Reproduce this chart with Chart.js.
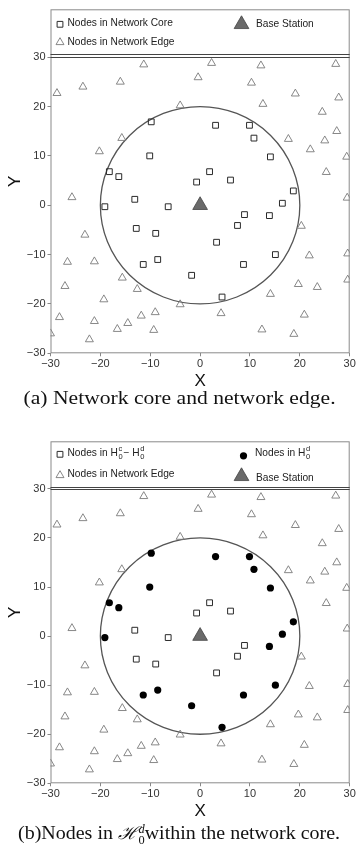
<!DOCTYPE html>
<html>
<head>
<meta charset="utf-8">
<script src="https://cdn.jsdelivr.net/npm/chart.js@4.4.1/dist/chart.umd.min.js"></script>
<style>
  body { margin: 0; background: #fff; }
  #page { position: relative; width: 359px; height: 862px; }
  canvas { position: absolute; left: 0; }
  .caption {
    position: absolute; left: 0; width: 359px; text-align: center;
    font-family: "Liberation Serif", "Times New Roman", serif; font-size: 18.5px; color: #111;
    white-space: nowrap;
  }
  .caption > span.inner { display: inline-block; transform-origin: center; }
  .ss { display: inline-block; vertical-align: -0.45em; font-size: 0.62em; line-height: 0.95; text-align: left; }
  .ss span { display: block; }
  .cal { font-family: "DejaVu Serif", serif; font-style: italic; font-size: 0.95em; }
</style>
</head>
<body>
<div id="page">
  <canvas id="chartA" width="359" height="392" style="top:0"></canvas>
  <div class="caption" style="top:388px"><span class="inner" data-w="312">(a) Network core and network edge.</span></div>
  <canvas id="chartB" width="359" height="390" style="top:432px"></canvas>
  <div class="caption" style="top:820px"><span class="inner" data-w="322">(b)Nodes in <span class="cal">ℋ</span><span class="ss"><span><i>d</i></span><span>0</span></span>within the network core.</span></div>
</div>
<script>
// nodes inside the core circle
const coreX = [-9.8, 3.1, 9.9, 10.8, -10.1, 14.1, -18.2, 1.9, -16.3, 6.1, -0.7, 18.7, -13.1, 16.5,
  -19.1, -6.4, 8.9, 13.9, 7.5, -12.8, -8.9, 3.3, 15.1, -8.5, -11.4, 8.7, -1.7, 4.4];
const coreY = [16.9, 16.2, 16.2, 13.6, 10.0, 9.8, 6.8, 6.8, 5.8, 5.1, 4.7, 2.9, 1.2, 0.4,
  -0.3, -0.3, -1.9, -2.1, -4.1, -4.7, -5.7, -7.5, -10.0, -11.0, -12.0, -12.0, -14.2, -18.6];
// 1 = node belongs to H0^d (filled dot in panel b)
const inHd = [1, 1, 1, 1, 1, 1, 1, 0, 1, 0, 0, 1, 0, 1,
  1, 0, 0, 1, 0, 0, 0, 0, 1, 1, 1, 1, 1, 1];

// nodes in the network edge
const edgeX = [-11.3, 2.3, 12.2, 27.2, -16.0, -0.4, 10.3, -23.5, -28.7, 19.1, 27.8, -4.0, 12.6,
  24.5, 27.4, -15.7, 17.7, 25.0, 22.1, -20.2, 29.4, 25.3, -25.7, 29.5, -23.1, 20.3, -26.6,
  -21.2, 21.9, 29.6, -15.6, 29.6, -27.1, -12.6, 19.7, 23.5, 14.1, -19.3, -4.0, 4.2, -11.8,
  -9.0, 20.9, -28.2, -21.2, -14.5, -16.6, -9.3, 12.4, 18.8, -30.0, -22.2];
const edgeY = [28.5, 28.8, 28.3, 28.6, 25.0, 25.9, 24.8, 24.0, 22.7, 22.6, 21.8, 20.2, 20.5,
  18.9, 15.0, 13.6, 13.4, 13.1, 11.3, 10.9, 9.8, 6.7, 1.6, 1.5, -6.0, -4.2, -11.5,
  -11.4, -10.2, -9.8, -14.7, -15.1, -16.4, -17.0, -16.0, -16.6, -18.0, -19.1, -20.1, -21.9, -22.4,
  -21.7, -22.2, -22.7, -23.5, -23.9, -25.1, -25.3, -25.2, -26.1, -26.0, -27.2];

const baseStation = [0, 0];
const coreRadius = 20;
const xTicks = [-30, -20, -10, 0, 10, 20, 30];
const yTicks = [-30, -20, -10, 0, 10, 20, 30];

const pts = (xs, ys, keep) => xs.map((x, i) => ({ x: x, y: ys[i] })).filter((p, i) => !keep || keep(i));

const sans = '"Liberation Sans", Arial, sans-serif';
const tri = { pointStyle: 'triangle', pointRadius: 4.6, pointBorderColor: '#7a7a7a', pointBackgroundColor: 'rgba(255,255,255,0)', pointBorderWidth: 0.9 };
const sq = { pointStyle: 'rect', pointRadius: 4.1, pointBorderColor: '#2a2a2a', pointBackgroundColor: 'rgba(255,255,255,0)', pointBorderWidth: 1 };
const dot = { pointStyle: 'circle', pointRadius: 3.6, pointBorderColor: '#000', pointBackgroundColor: '#000', pointBorderWidth: 0 };
const bs = { pointStyle: 'triangle', pointRadius: 8.5, pointBorderColor: '#444', pointBackgroundColor: '#6a6a6a', pointBorderWidth: 0.8 };

function drawMarker(ctx, st, x, y) {
  ctx.save();
  ctx.strokeStyle = st.pointBorderColor;
  ctx.fillStyle = st.pointBackgroundColor;
  ctx.lineWidth = st.pointBorderWidth;
  Chart.helpers.drawPoint(ctx, { pointStyle: st.pointStyle, radius: st.pointRadius, rotation: 0, borderWidth: st.pointBorderWidth }, x, y);
  ctx.restore();
}

// text with stacked super/subscripts, e.g. H_0^c
function drawRich(ctx, parts, x, y) {
  ctx.textBaseline = 'middle';
  ctx.textAlign = 'left';
  parts.forEach(p => {
    if (p.t) {
      ctx.font = '10.2px ' + sans;
      ctx.fillText(p.t, x, y);
      x += ctx.measureText(p.t).width;
    } else {
      ctx.font = '7.5px ' + sans;
      ctx.fillText(p.sup, x + 0.5, y - 4.5);
      ctx.fillText(p.sub, x + 0.5, y + 4);
      x += Math.max(ctx.measureText(p.sup).width, ctx.measureText(p.sub).width) + 1.5;
    }
  });
}

const framePlugin = {
  id: 'frame',
  beforeDatasetsDraw(chart, args, o) {
    const { ctx, chartArea: a, scales: { x, y } } = chart;
    ctx.save();
    // core circle
    const cx = x.getPixelForValue(baseStation[0]), cy = y.getPixelForValue(baseStation[1]);
    const rx = x.getPixelForValue(coreRadius) - cx, ry = cy - y.getPixelForValue(coreRadius);
    ctx.strokeStyle = '#555';
    ctx.lineWidth = 1.3;
    ctx.beginPath();
    ctx.ellipse(cx, cy, rx, ry, 0, 0, Math.PI * 2);
    ctx.stroke();
    // frame
    ctx.strokeStyle = '#8a8a8a';
    ctx.lineWidth = 1;
    ctx.strokeRect(a.left + 0.5, a.top + 0.5, a.right - a.left - 1, a.bottom - a.top - 1);
    // separator lines under the legend
    ctx.strokeStyle = '#444';
    o.lines.forEach(v => {
      const py = Math.round(y.getPixelForValue(v)) + 0.5;
      ctx.beginPath();
      ctx.moveTo(a.left, py);
      ctx.lineTo(a.right, py);
      ctx.stroke();
    });
    ctx.restore();
  },
  afterDraw(chart, args, o) {
    const { ctx, chartArea: a } = chart;
    ctx.save();
    ctx.fillStyle = '#222';
    o.legend.forEach(item => {
      drawMarker(ctx, item.style, a.left + item.mx, a.top + item.my);
      drawRich(ctx, item.text, a.left + item.tx, a.top + item.ty);
    });
    ctx.restore();
  }
};

function makeChart(id, datasets, legend, lines) {
  return new Chart(document.getElementById(id), {
    type: 'scatter',
    data: { datasets: datasets },
    plugins: [framePlugin],
    options: {
      responsive: false,
      animation: false,
      layout: { padding: { top: 1, right: 7, bottom: 0, left: 0 } },
      plugins: {
        legend: { display: false },
        tooltip: { enabled: false },
        frame: { legend: legend, lines: lines }
      },
      scales: {
        x: {
          type: 'linear', min: -30, max: 30,
          afterBuildTicks: s => { s.ticks = xTicks.map(v => ({ value: v })); },
          afterFit: s => { s.height = 38.7; },
          border: { display: false },
          grid: { drawOnChartArea: false, tickLength: 3, color: '#888' },
          ticks: { padding: 1, color: '#333', font: { family: sans, size: 11 }, maxRotation: 0,
            callback: v => String(v).replace('-', '\u2212') },
          title: { display: true, text: 'X', color: '#111', font: { family: sans, size: 17 }, padding: { top: 0, bottom: 0 } }
        },
        y: {
          type: 'linear', min: -30, max: 39.7,
          afterBuildTicks: s => { s.ticks = yTicks.map(v => ({ value: v })); },
          afterFit: s => { s.width = 50.5; },
          border: { display: false },
          grid: { drawOnChartArea: false, tickLength: 3, color: '#888' },
          ticks: { padding: 2, color: '#333', font: { family: sans, size: 11 },
            callback: v => String(v).replace('-', '\u2212') },
          title: { display: true, text: 'Y', color: '#111', font: { family: sans, size: 17 }, padding: { top: 5, bottom: 0 } }
        }
      }
    }
  });
}

// panel (a)
makeChart('chartA', [
  Object.assign({ label: 'Nodes in Network Edge', data: pts(edgeX, edgeY) }, tri),
  Object.assign({ label: 'Nodes in Network Core', data: pts(coreX, coreY) }, sq),
  Object.assign({ label: 'Base Station', data: [{ x: baseStation[0], y: baseStation[1] }] }, bs)
], [
  { style: sq, mx: 9.5, my: 15, tx: 17, ty: 14, text: [{ t: 'Nodes in Network Core' }] },
  { style: tri, mx: 9.5, my: 33, tx: 17, ty: 33, text: [{ t: 'Nodes in Network Edge' }] },
  { style: bs, mx: 191, my: 15, tx: 205.5, ty: 14.5, text: [{ t: 'Base Station' }] }
], [30, 30.6]);

// panel (b)
makeChart('chartB', [
  Object.assign({ label: 'Nodes in Network Edge', data: pts(edgeX, edgeY) }, tri),
  Object.assign({ label: 'Nodes in H0c - H0d', data: pts(coreX, coreY, i => !inHd[i]) }, sq),
  Object.assign({ label: 'Nodes in H0d', data: pts(coreX, coreY, i => inHd[i]) }, dot),
  Object.assign({ label: 'Base Station', data: [{ x: baseStation[0], y: baseStation[1] }] }, bs)
], [
  { style: sq, mx: 9.5, my: 13, tx: 17, ty: 12, text: [{ t: 'Nodes in H' }, { sup: 'c', sub: '0' }, { t: '\u2212 H' }, { sup: 'd', sub: '0' }] },
  { style: dot, mx: 193, my: 14.5, tx: 204.5, ty: 12, text: [{ t: 'Nodes in H' }, { sup: 'd', sub: '0' }] },
  { style: tri, mx: 9.5, my: 34, tx: 17, ty: 33, text: [{ t: 'Nodes in Network Edge' }] },
  { style: bs, mx: 191, my: 35, tx: 205.5, ty: 36.5, text: [{ t: 'Base Station' }] }
], [30, 30.3]);

// stretch the captions to the width they have in the figure
document.querySelectorAll('.caption .inner').forEach(el => {
  el.style.transform = 'scaleX(' + (+el.dataset.w / el.getBoundingClientRect().width) + ')';
});
</script>
</body>
</html>
